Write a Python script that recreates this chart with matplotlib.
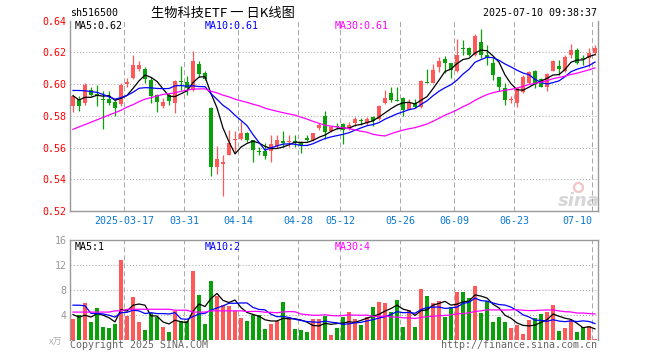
import numpy as np
import pandas as pd
import matplotlib
matplotlib.use('Agg')
import matplotlib.pyplot as plt

# daily candles 2025-03-04 .. 2025-07-10 (88 sessions)
opens = [0.5865, 0.5907, 0.5878, 0.5965, 0.5940, 0.5905, 0.5905, 0.5886, 0.5877, 0.6000,
         0.6038, 0.6097, 0.6097, 0.6028, 0.5930, 0.5865, 0.5930, 0.5882, 0.6018, 0.6011,
         0.5961, 0.6126, 0.6069, 0.5850, 0.5475, 0.5495, 0.5556, 0.5645, 0.5652, 0.5695,
         0.5645, 0.5575, 0.5576, 0.5576, 0.5610, 0.5642, 0.5633, 0.5644, 0.5632, 0.5660,
         0.5645, 0.5725, 0.5800, 0.5704, 0.5735, 0.5750, 0.5715, 0.5752, 0.5768, 0.5752,
         0.5794, 0.5781, 0.5881, 0.5944, 0.5898, 0.5915, 0.5838, 0.5879, 0.5858, 0.6012,
         0.6010, 0.6111, 0.6156, 0.6135, 0.6085, 0.6228, 0.6229, 0.6183, 0.6265, 0.6183,
         0.6131, 0.6044, 0.5975, 0.5900, 0.5881, 0.5948, 0.6006, 0.6085, 0.6031, 0.5985,
         0.6085, 0.6115, 0.6085, 0.6183, 0.6215, 0.6158, 0.6163, 0.6194]
highs = [0.5932, 0.5924, 0.6007, 0.5982, 0.5997, 0.5954, 0.5955, 0.5903, 0.6007, 0.6040,
         0.6185, 0.6143, 0.6105, 0.6045, 0.5940, 0.5913, 0.5944, 0.6028, 0.6112, 0.6049,
         0.6210, 0.6149, 0.6080, 0.5855, 0.5610, 0.5550, 0.5712, 0.5705, 0.5765, 0.5698,
         0.5648, 0.5602, 0.5627, 0.5680, 0.5680, 0.5705, 0.5680, 0.5680, 0.5635, 0.5680,
         0.5695, 0.5755, 0.5828, 0.5735, 0.5755, 0.5755, 0.5760, 0.5795, 0.5787, 0.5790,
         0.5796, 0.5867, 0.5965, 0.5985, 0.5985, 0.5918, 0.5904, 0.5904, 0.6027, 0.6094,
         0.6127, 0.6169, 0.6177, 0.6135, 0.6283, 0.6280, 0.6235, 0.6315, 0.6350, 0.6246,
         0.6163, 0.6044, 0.6006, 0.5925, 0.5985, 0.6056, 0.6085, 0.6090, 0.6040, 0.6070,
         0.6152, 0.6154, 0.6183, 0.6252, 0.6231, 0.6183, 0.6231, 0.6246]
lows = [0.5823, 0.5829, 0.5871, 0.5924, 0.5861, 0.5715, 0.5870, 0.5798, 0.5861, 0.5985,
        0.6032, 0.6080, 0.6010, 0.5882, 0.5823, 0.5850, 0.5871, 0.5819, 0.5965, 0.5934,
        0.5955, 0.6045, 0.6028, 0.5418, 0.5435, 0.5295, 0.5553, 0.5570, 0.5645, 0.5635,
        0.5508, 0.5553, 0.5528, 0.5510, 0.5600, 0.5605, 0.5605, 0.5605, 0.5564, 0.5643,
        0.5643, 0.5710, 0.5656, 0.5700, 0.5715, 0.5620, 0.5710, 0.5735, 0.5740, 0.5745,
        0.5735, 0.5775, 0.5875, 0.5890, 0.5892, 0.5798, 0.5834, 0.5852, 0.5852, 0.6006,
        0.6006, 0.6075, 0.6069, 0.6038, 0.6075, 0.6185, 0.6180, 0.6177, 0.6163, 0.6120,
        0.6027, 0.5956, 0.5871, 0.5879, 0.5856, 0.5944, 0.5998, 0.5975, 0.5983, 0.5956,
        0.6081, 0.6056, 0.6079, 0.6163, 0.6125, 0.6121, 0.6110, 0.6183]
closes = [0.5928, 0.5865, 0.5997, 0.5934, 0.5925, 0.5900, 0.5880, 0.5850, 0.5997, 0.6015,
          0.6122, 0.6118, 0.6035, 0.5924, 0.5886, 0.5886, 0.5892, 0.6018, 0.6015, 0.5976,
          0.6147, 0.6066, 0.6031, 0.5480, 0.5530, 0.5510, 0.5630, 0.5650, 0.5695, 0.5645,
          0.5583, 0.5570, 0.5545, 0.5625, 0.5648, 0.5628, 0.5644, 0.5627, 0.5617, 0.5645,
          0.5693, 0.5742, 0.5698, 0.5731, 0.5728, 0.5710, 0.5745, 0.5783, 0.5765, 0.5783,
          0.5767, 0.5865, 0.5913, 0.5898, 0.5896, 0.5838, 0.5883, 0.5858, 0.6017, 0.6010,
          0.6090, 0.6148, 0.6135, 0.6090, 0.6183, 0.6220, 0.6185, 0.6302, 0.6183, 0.6163,
          0.6058, 0.5985, 0.5902, 0.5904, 0.5975, 0.6044, 0.6079, 0.6010, 0.5985, 0.6065,
          0.6148, 0.6094, 0.6169, 0.6215, 0.6131, 0.6156, 0.6198, 0.6231]
# volume, 万手
volumes = [3.37, 4.0, 5.89, 2.95, 5.1, 2.1, 1.95, 2.58, 12.8, 3.84,
           6.84, 2.89, 1.63, 4.31, 3.68, 2.1, 1.32, 4.63, 3.05, 3.05,
           11.1, 7.15, 2.58, 9.52, 7.0, 5.58, 5.42, 4.63, 3.52, 3.05,
           4.0, 4.0, 1.79, 2.58, 3.05, 6.05, 3.68, 1.79, 1.63, 1.32,
           3.37, 3.37, 3.84, 0.84, 1.95, 3.68, 4.47, 3.37, 2.42, 3.68,
           5.26, 6.05, 5.89, 4.47, 6.36, 2.1, 4.79, 2.1, 8.26, 7.0,
           5.89, 6.2, 3.68, 5.26, 7.78, 7.78, 6.68, 8.73, 4.31, 6.2,
           2.89, 3.68, 2.89, 1.95, 2.42, 1.0, 3.21, 3.52, 4.16, 4.47,
           5.58, 1.47, 1.95, 3.21, 1.32, 2.1, 2.26, 0.21]

# moving average values before a full window exists inside the chart
ma5_head = [0.5927, 0.5900, 0.5917, 0.5917]
ma10_head = [0.5960, 0.5960, 0.5958, 0.5953, 0.5948, 0.5935, 0.5920, 0.5905, 0.5915]
ma30_head = [0.5715, 0.5730, 0.5745, 0.5760, 0.5775, 0.5790, 0.5805, 0.5820, 0.5835, 0.5855,
             0.5870, 0.5890, 0.5905, 0.5915, 0.5925, 0.5935, 0.5940, 0.5945, 0.5955, 0.5962,
             0.5968, 0.5970, 0.5970, 0.5955, 0.5945, 0.5930, 0.5920, 0.5905, 0.5895]
vma5_head = [4.1, 3.7, 4.0, 3.7]
vma10_head = [5.6, 5.6, 5.5, 4.3, 4.3, 4.2, 4.0, 3.7, 4.4]
vma30_head = [4.5, 4.5, 4.5, 4.5, 4.5, 4.5, 4.5, 4.7, 4.7, 4.95,
              4.95, 4.95, 4.95, 4.95, 4.95, 4.95, 4.95, 4.8, 4.8, 4.8,
              4.5, 4.5, 4.5, 4.7, 4.7, 4.7, 4.7, 4.7, 4.7]

date_idx = [9, 19, 28, 38, 45, 55, 64, 74, 87]
date_labels = ['2025-03-17', '03-31', '04-14', '04-28', '05-12', '05-26', '06-09', '06-23', '07-10']


def moving(vals, n, head):
    m = pd.Series(vals).rolling(n).mean().to_numpy()
    m[:n - 1] = head
    return m


opens = np.array(opens)
closes = np.array(closes)
highs = np.array(highs)
lows = np.array(lows)
volumes = np.array(volumes)
x = np.arange(len(closes))

ma5 = moving(closes, 5, ma5_head)
ma10 = moving(closes, 10, ma10_head)
ma30 = moving(closes, 30, ma30_head)
vma5 = moving(volumes, 5, vma5_head)
vma10 = moving(volumes, 10, vma10_head)
vma30 = moving(volumes, 30, vma30_head)

RED = '#ff5858'
GREEN = '#0aa00a'
GRID = '#aaaaaa'
FRAME = '#999999'
MONO = 'DejaVu Sans Mono'
CJK = ['Noto Sans CJK SC', 'DejaVu Sans']
FS = 7.2

plt.rcParams['font.family'] = MONO

W, H = 660, 360
fig = plt.figure(figsize=(W / 100, H / 100), dpi=100)


def box(l, t, r, b):
    return [l / W, 1 - b / H, (r - l) / W, (b - t) / H]


ax = fig.add_axes(box(70, 20.7, 598, 211))
axv = fig.add_axes(box(70, 240, 598, 340.3))

colors = np.where(closes >= opens, RED, GREEN)

# watermark (behind the data)
ax.text(84.3, 0.5265, 'sina', ha='center', va='center', color='#d6d6d6', fontsize=13,
        style='italic', weight='bold', family='DejaVu Sans', zorder=0)
ax.plot([84.2], [0.5352], 'o', ms=6.5, mfc='none', mec='#f2c4c4', mew=1.6, zorder=0)

# candles
body_lo = np.minimum(opens, closes)
body_h = np.maximum(np.abs(closes - opens), 0.0006)
ax.vlines(x, lows, highs, colors=colors, lw=0.9, zorder=3)
ax.bar(x, body_h, 0.8, bottom=body_lo, color=colors, linewidth=0, zorder=3)
ax.plot(x, ma5, color='black', lw=0.9, zorder=4)
ax.plot(x, ma10, color='#0000ff', lw=0.9, zorder=4)
ax.plot(x, ma30, color='#ff00ff', lw=0.9, zorder=4)

# volume
axv.bar(x, volumes, 0.8, color=colors, linewidth=0, zorder=3)
axv.plot(x, vma5, color='black', lw=0.9, zorder=4)
axv.plot(x, vma10, color='#0000ff', lw=0.9, zorder=4)
axv.plot(x, vma30, color='#ff00ff', lw=0.9, zorder=4)

for a in (ax, axv):
    a.set_xlim(-0.5, len(x) - 0.5)
    a.set_xticks([])
    for d in date_idx:
        a.axvline(d - 0.5, color=GRID, lw=0.75, ls=(0, (4.8, 2.9)), zorder=1)
    for s in a.spines.values():
        s.set_color(FRAME)
        s.set_linewidth(1)

ax.set_ylim(0.52, 0.64)
ax.set_yticks([0.52, 0.54, 0.56, 0.58, 0.60, 0.62, 0.64])
ax.set_yticklabels(['0.52', '0.54', '0.56', '0.58', '0.60', '0.62', '0.64'])
ax.tick_params(axis='y', length=0, pad=2.5, labelcolor='red', labelsize=FS)
for yv in [0.54, 0.56, 0.58, 0.60, 0.62]:
    ax.axhline(yv, color=GRID, lw=0.75, ls=(0, (1, 2)), zorder=1)
ax.spines['top'].set_visible(False)

axv.set_ylim(0, 16)
axv.set_yticks([4, 8, 12, 16])
axv.set_yticklabels(['4', '8', '12', '16'])
axv.tick_params(axis='y', length=0, pad=2.5, labelcolor='#999999', labelsize=FS)
for yv in [4, 8, 12]:
    axv.axhline(yv, color=GRID, lw=0.75, ls=(0, (1, 2)), zorder=1)
axv.spines['bottom'].set_visible(False)

# date labels
for d, lab in zip(date_idx, date_labels):
    ha = 'right' if d == date_idx[-1] else 'center'
    ax.text(d - 0.5, -0.052, lab, transform=ax.get_xaxis_transform(), ha=ha, va='center',
            color='#0a78d2', fontsize=FS)

# header
fig.text(70 / W, 1 - 13.3 / H, 'sh516500', ha='left', va='center', fontsize=FS)
fig.text(223 / W, 1 - 13.3 / H, '生物科技ETF 一 日K线图', ha='center', va='center',
         fontsize=9.5, family=CJK)
fig.text(597 / W, 1 - 13.3 / H, '2025-07-10 09:38:37', ha='right', va='center', fontsize=FS)

# moving average captions
fig.text(75 / W, 1 - 26 / H, 'MA5:%.2f' % ma5[-1], color='black', va='center', fontsize=FS)
fig.text(205 / W, 1 - 26 / H, 'MA10:%.2f' % ma10[-1], color='#0000ff', va='center', fontsize=FS)
fig.text(335 / W, 1 - 26 / H, 'MA30:%.2f' % ma30[-1], color='#ff00ff', va='center', fontsize=FS)
fig.text(75 / W, 1 - 246.7 / H, 'MA5:%d' % int(vma5[-1]), color='black', va='center', fontsize=FS)
fig.text(205 / W, 1 - 246.7 / H, 'MA10:%d' % int(vma10[-1]), color='#0000ff', va='center', fontsize=FS)
fig.text(335 / W, 1 - 246.7 / H, 'MA30:%d' % int(vma30[-1]), color='#ff00ff', va='center', fontsize=FS)

fig.text(56 / W, 1 - 342 / H, 'x万', ha='center', va='center', color='#aaaaaa', fontsize=6.5, family=CJK)

# footer
fig.text(70 / W, 1 - 345.5 / H, 'Copyright 2025 SINA.COM', ha='left', va='center',
         color='#666666', fontsize=FS)
fig.text(597 / W, 1 - 345.5 / H, 'http://finance.sina.com.cn', ha='right', va='center',
         color='#666666', fontsize=FS)

fig.savefig('out.png', dpi=100)
